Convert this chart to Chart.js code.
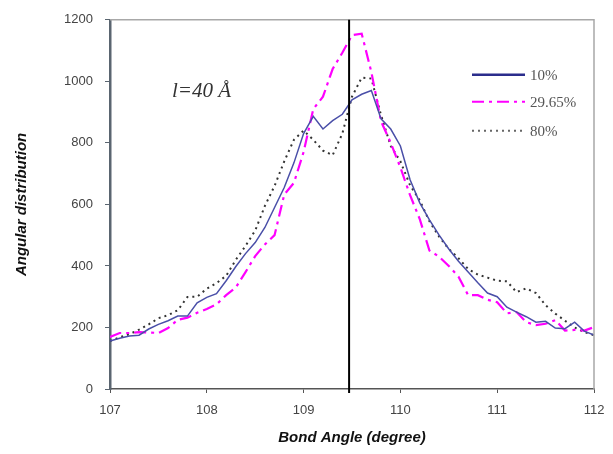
<!DOCTYPE html>
<html>
<head>
<meta charset="utf-8">
<script src="https://cdn.jsdelivr.net/npm/chart.js@4"></script>
<style>
html,body{margin:0;padding:0;background:#fff;}
#wrap{width:613px;height:454px;position:relative;}
</style>
</head>
<body>
<div id="wrap"><canvas id="c" width="613" height="454"></canvas></div>
<script>
// Bond angles (degrees), step 0.1
const angles = [107.0,107.1,107.2,107.3,107.4,107.5,107.6,107.7,107.8,107.9,
                108.0,108.1,108.2,108.3,108.4,108.5,108.6,108.7,108.8,108.9,
                109.0,109.1,109.2,109.3,109.4,109.5,109.6,109.7,109.8,109.9,
                110.0,110.1,110.2,110.3,110.4,110.5,110.6,110.7,110.8,110.9,
                111.0,111.1,111.2,111.3,111.4,111.5,111.6,111.7,111.8,111.9,112.0];
const series10 = [156,165,172,175,195,210,222,237,237,280,
                  298,310,352,398,440,476,525,590,655,735,
                  830,886,845,872,893,940,958,970,878,845,
                  790,680,605,550,500,455,415,380,345,312,
                  300,266,250,235,217,220,198,196,217,188,175];
const series2965 = [169,182,182,185,184,182,198,225,232,248,
                    260,275,305,330,380,432,470,500,632,670,
                    770,910,950,1040,1093,1150,1155,1030,870,800,
                    720,630,552,450,430,400,365,305,305,290,
                    282,246,250,217,208,212,224,190,192,190,201];
const series80 = [156,168,178,193,210,230,240,256,299,300,
                  326,344,368,420,465,515,595,660,740,810,
                  840,810,775,760,830,950,1012,1009,890,790,
                  740,662,613,545,495,455,425,390,372,362,
                  352,350,315,327,312,272,245,222,200,185,175];
const seriesNames = ['10%','29.65%','80%'];
const xTicks = [107,108,109,110,111,112];
const yTicks = [0,200,400,600,800,1000,1200];
const tetraAngle = 109.47;
const annotationText = 'l=40 Å';

function toPoints(vals){ return angles.map((a,i)=>({x:a,y:vals[i]})); }

const styles = [
  {color:'#4a4fa8', width:1.5, dash:[] , legendColor:'#2b2d8c', legendWidth:2.5},
  {color:'#ff00ff', width:2.2, dash:[12,5,3,5], legendColor:'#ff00ff', legendWidth:2},
  {color:'#333333', width:2, dash:[2,4], legendColor:'#666666', legendWidth:2}
];
const allSeries = [series10, series2965, series80];

const overlay = {
  id:'overlay',
  afterDatasetsDraw(chart){
    const {ctx, chartArea:a, scales:{x,y}} = chart;
    ctx.save();
    // top/right frame
    ctx.strokeStyle='#a8a8a8'; ctx.lineWidth=1.5;
    ctx.beginPath(); ctx.moveTo(a.left,a.top); ctx.lineTo(a.right,a.top); ctx.lineTo(a.right,a.bottom); ctx.stroke();
    // vertical line at tetrahedral angle
    const vx = x.getPixelForValue(tetraAngle);
    ctx.strokeStyle='#000'; ctx.lineWidth=2; ctx.setLineDash([]);
    ctx.beginPath(); ctx.moveTo(vx,a.top); ctx.lineTo(vx,a.bottom+4); ctx.stroke();
    // annotation
    ctx.fillStyle='#333'; ctx.font='italic 21px "Liberation Serif", serif';
    ctx.textBaseline='middle'; ctx.textAlign='left';
    ctx.fillText(annotationText, a.left+62, a.top+72);
    // legend
    const lx0 = a.left+362, lx1 = a.left+415, tx = a.left+420;
    const ly = [a.top+55, a.top+82, a.top+111];
    ctx.font='15px "Liberation Serif", serif';
    seriesNames.forEach((n,i)=>{
      const s = styles[i];
      ctx.strokeStyle=s.legendColor; ctx.lineWidth=s.legendWidth; ctx.setLineDash(s.dash);
      ctx.beginPath(); ctx.moveTo(lx0,ly[i]); ctx.lineTo(lx1,ly[i]); ctx.stroke();
      ctx.setLineDash([]);
      ctx.fillStyle='#555'; ctx.fillText(n, tx, ly[i]+1);
    });
    ctx.restore();
  }
};

new Chart(document.getElementById('c'), {
  type:'scatter',
  data:{
    datasets: allSeries.map((vals,i)=>({
      label: seriesNames[i],
      data: toPoints(vals),
      showLine:true,
      borderColor: styles[i].color,
      borderWidth: styles[i].width,
      borderDash: styles[i].dash,
      pointRadius:0,
      tension:0,
      fill:false
    }))
  },
  options:{
    responsive:false,
    animation:false,
    layout:{padding:{top:19,right:19,left:0,bottom:0}},
    plugins:{legend:{display:false}, tooltip:{enabled:false}},
    scales:{
      x:{
        type:'linear', min:107, max:112,
        afterBuildTicks(s){ s.ticks = xTicks.map(v=>({value:v})); },
        afterFit(s){ s.height = 65; s.paddingRight = 0; s.paddingLeft = 0; },
        grid:{drawOnChartArea:false, drawTicks:true, tickLength:4, color:'#555'},
        border:{color:'#555', width:1.5},
        ticks:{color:'#444', padding:10, callback:v=>String(v), font:{family:'"Liberation Sans", Arial, sans-serif', size:13}, maxRotation:0},
        title:{display:true, text:'Bond Angle (degree)', color:'#111', padding:{top:0,bottom:7},
               font:{family:'"Liberation Sans", Arial, sans-serif', size:15, style:'italic', weight:'bold'}}
      },
      y:{
        type:'linear', min:0, max:1200,
        afterBuildTicks(s){ s.ticks = yTicks.map(v=>({value:v})); },
        afterFit(s){ s.width = 110; },
        grid:{drawOnChartArea:false, drawTicks:true, tickLength:5, color:'#5a6570'},
        border:{color:'#5a6570', width:2.5},
        ticks:{color:'#444', padding:12, callback:v=>String(v), font:{family:'"Liberation Sans", Arial, sans-serif', size:13}},
        title:{display:true, text:'Angular distribution', color:'#111', padding:{top:13,bottom:0},
               font:{family:'"Liberation Sans", Arial, sans-serif', size:15, style:'italic', weight:'bold'}}
      }
    }
  },
  plugins:[overlay]
});
</script>
</body>
</html>
